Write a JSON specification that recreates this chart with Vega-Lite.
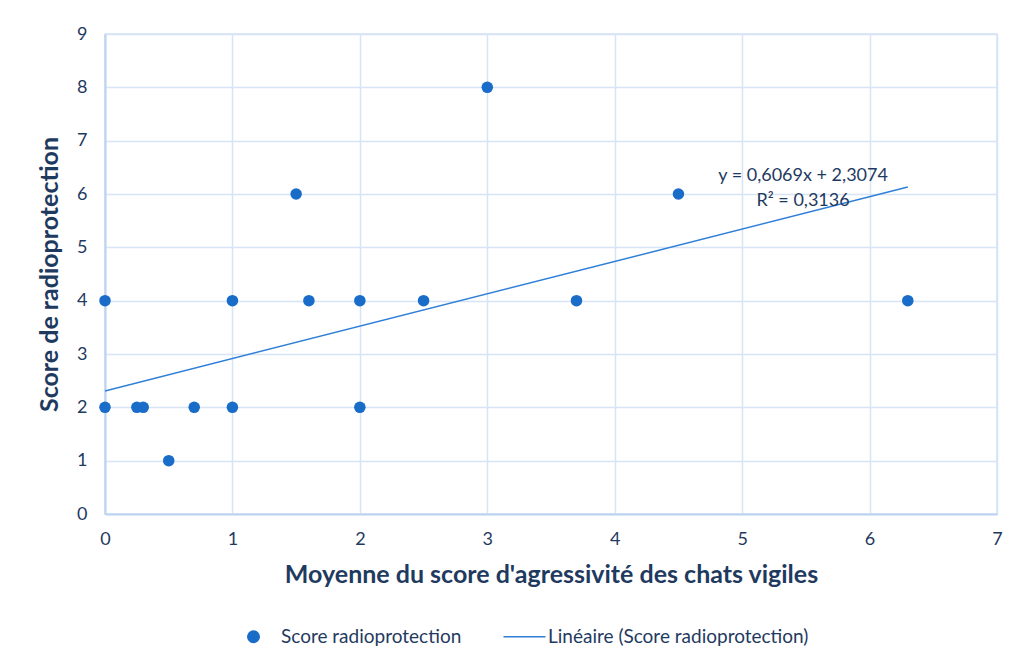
{
  "$schema": "https://vega.github.io/schema/vega-lite/v6.json",
  "width": 892,
  "height": 480,
  "autosize": "none",
  "padding": {"left": 105, "top": 34, "right": 23, "bottom": 151},
  "background": "white",
  "config": {
    "font": "Lato",
    "view": {"stroke": "#d3e2f4", "strokeWidth": 1.5},
    "axis": {
      "grid": true,
      "gridColor": "#d6e4f5",
      "gridWidth": 1.5,
      "domainColor": "#bcd4f0",
      "domainWidth": 2,
      "ticks": false,
      "labelFlush": false,
      "labelColor": "#1f3a5f",
      "labelFontSize": 18,
      "labelFont": "Lato",
      "titleColor": "#1f3a5f",
      "titleFont": "Lato",
      "titleFontWeight": "bold",
      "titleFontSize": 25
    }
  },
  "layer": [
    {
      "data": {
        "values": [
          {"x": 0, "y": 2.3074, "series": "Linéaire (Score radioprotection)"},
          {"x": 6.3, "y": 6.1309, "series": "Linéaire (Score radioprotection)"}
        ]
      },
      "mark": {"type": "line", "strokeWidth": 1.5},
      "encoding": {
        "x": {
          "field": "x", "type": "quantitative",
          "scale": {"domain": [0, 7], "nice": false, "zero": false},
          "axis": {"values": [0, 1, 2, 3, 4, 5, 6, 7], "format": "d", "labelPadding": 16, "title": "Moyenne du score d'agressivité des chats vigiles", "titlePadding": 14}
        },
        "y": {
          "field": "y", "type": "quantitative",
          "scale": {"domain": [0, 9], "nice": false},
          "axis": {"values": [0, 1, 2, 3, 4, 5, 6, 7, 8, 9], "format": "d", "labelPadding": 18, "title": "Score de radioprotection", "titlePadding": 14}
        },
        "color": {
          "field": "series", "type": "nominal",
          "scale": {"domain": ["Score radioprotection", "Linéaire (Score radioprotection)"], "range": ["#1a6cc9", "#2f7fd8"]},
          "legend": {
            "orient": "none",
            "legendX": 139,
            "legendY": 593,
            "direction": "horizontal",
            "title": null,
            "padding": 0,
            "labelFontSize": 19,
            "labelLimit": 500,
            "labelColor": "#1f3a5f",
            "labelFont": "Lato",
            "labelOffset": 18,
            "columnPadding": 38,
            "symbolSize": 133,
            "symbolStrokeColor": "#1a6cc9",
            "symbolStrokeWidth": 1.5,
            "symbolOpacity": 1
          }
        }
      }
    },
    {
      "data": {
        "values": [
          {"x": 0, "y": 4, "series": "Score radioprotection"},
          {"x": 0, "y": 2, "series": "Score radioprotection"},
          {"x": 0.25, "y": 2, "series": "Score radioprotection"},
          {"x": 0.3, "y": 2, "series": "Score radioprotection"},
          {"x": 0.5, "y": 1, "series": "Score radioprotection"},
          {"x": 0.7, "y": 2, "series": "Score radioprotection"},
          {"x": 1, "y": 4, "series": "Score radioprotection"},
          {"x": 1, "y": 2, "series": "Score radioprotection"},
          {"x": 1.5, "y": 6, "series": "Score radioprotection"},
          {"x": 1.6, "y": 4, "series": "Score radioprotection"},
          {"x": 2, "y": 4, "series": "Score radioprotection"},
          {"x": 2, "y": 2, "series": "Score radioprotection"},
          {"x": 2.5, "y": 4, "series": "Score radioprotection"},
          {"x": 3, "y": 8, "series": "Score radioprotection"},
          {"x": 3.7, "y": 4, "series": "Score radioprotection"},
          {"x": 4.5, "y": 6, "series": "Score radioprotection"},
          {"x": 6.3, "y": 4, "series": "Score radioprotection"}
        ]
      },
      "mark": {"type": "point", "filled": true, "opacity": 1, "size": 133},
      "encoding": {
        "x": {"field": "x", "type": "quantitative"},
        "y": {"field": "y", "type": "quantitative"},
        "color": {"field": "series", "type": "nominal"},
        "shape": {
          "field": "series", "type": "nominal",
          "scale": {"domain": ["Score radioprotection", "Linéaire (Score radioprotection)"], "range": ["circle", "M-2.95,0L4.33,0"]}
        }
      }
    },
    {
      "data": {
        "values": [
          {"x": 5.478, "y": 6.34, "label": "y = 0,6069x + 2,3074"},
          {"x": 5.478, "y": 5.87, "label": "R² = 0,3136"}
        ]
      },
      "mark": {"type": "text", "fontSize": 18, "color": "#1f3a5f", "font": "Lato", "align": "center", "baseline": "middle"},
      "encoding": {
        "x": {"field": "x", "type": "quantitative"},
        "y": {"field": "y", "type": "quantitative"},
        "text": {"field": "label", "type": "nominal"}
      }
    }
  ]
}
